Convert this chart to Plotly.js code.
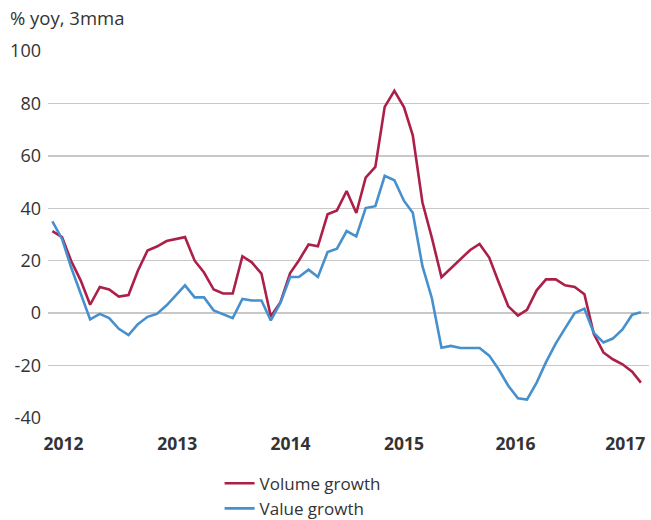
<!DOCTYPE html>
<html>
<head>
<meta charset="utf-8">
<script src="https://cdn.plot.ly/plotly-3.0.1.min.js"></script>
<style>html,body{margin:0;padding:0;background:#fff;}#chart{width:651px;height:520px;}</style>
</head>
<body>
<div id="chart"></div>
<script>
var months = [
 '2012-01-01','2012-02-01','2012-03-01','2012-04-01','2012-05-01','2012-06-01','2012-07-01','2012-08-01','2012-09-01','2012-10-01','2012-11-01','2012-12-01',
 '2013-01-01','2013-02-01','2013-03-01','2013-04-01','2013-05-01','2013-06-01','2013-07-01','2013-08-01','2013-09-01','2013-10-01','2013-11-01','2013-12-01',
 '2014-01-01','2014-02-01','2014-03-01','2014-04-01','2014-05-01','2014-06-01','2014-07-01','2014-08-01','2014-09-01','2014-10-01','2014-11-01','2014-12-01',
 '2015-01-01','2015-02-01','2015-03-01','2015-04-01','2015-05-01','2015-06-01','2015-07-01','2015-08-01','2015-09-01','2015-10-01','2015-11-01','2015-12-01',
 '2016-01-01','2016-02-01','2016-03-01','2016-04-01','2016-05-01','2016-06-01','2016-07-01','2016-08-01','2016-09-01','2016-10-01','2016-11-01','2016-12-01',
 '2017-01-01','2017-02-01','2017-03-01'
];
var volumeGrowth = [
 31.3, 29.0, 20.0, 12.4, 3.2, 10.0, 9.0, 6.3, 6.9, 16.2, 23.9, 25.4,
 27.5, 28.3, 29.0, 20.0, 15.5, 9.0, 7.5, 7.5, 21.7, 19.4, 15.1, -1.3,
 4.2, 15.3, 20.1, 26.2, 25.5, 37.7, 39.2, 46.6, 38.2, 51.7, 55.8, 78.7,
 84.8, 78.5, 67.8, 42.2, 28.8, 13.7, 17.1, 20.3, 24.1, 26.4, 21.2, 11.9,
 2.6, -0.9, 1.3, 8.7, 12.9, 12.9, 10.6, 10.0, 7.2, -7.9, -15.0, -17.6,
 -19.5, -22.3, -26.5
];
var valueGrowth = [
 35.0, 28.3, 17.5, 7.3, -2.4, -0.3, -1.9, -6.0, -8.4, -4.2, -1.4, -0.3,
 3.0, 7.0, 10.6, 6.0, 6.0, 1.0, -0.4, -1.9, 5.4, 4.8, 4.8, -2.8,
 4.0, 13.8, 13.8, 16.6, 13.8, 23.3, 24.6, 31.3, 29.3, 40.1, 40.8, 52.4,
 50.7, 42.8, 38.3, 17.9, 5.8, -13.2, -12.5, -13.3, -13.3, -13.3, -16.2, -21.4,
 -27.7, -32.5, -33.0, -26.5, -18.7, -11.6, -5.8, 0.0, 1.7, -7.5, -11.2, -9.7,
 -6.2, -0.6, 0.3
];
var yearTickPositions = ['2012-02-06','2013-02-04','2014-02-02','2015-02-01','2016-01-24','2017-01-10'];
var yearTickLabels = ['2012','2013','2014','2015','2016','2017'];
var yTickValues = [-40, -20, 0, 20, 40, 60, 80, 100];
var yTickLabels = ['-40', '-20', '0', '20', '40', '60', '80', '100'];
var seriesNames = ['Volume growth', 'Value growth'];

var FONT = '"Open Sans", "Noto Sans", sans-serif';
var traces = [
  {x: months, y: volumeGrowth, name: seriesNames[0], type: 'scatter', mode: 'lines',
   line: {color: '#AC1F48', width: 2.6}},
  {x: months, y: valueGrowth, name: seriesNames[1], type: 'scatter', mode: 'lines',
   line: {color: '#4690CD', width: 2.6}}
];
var layout = {
  width: 651, height: 520,
  margin: {l: 48, r: 2, t: 51, b: 102, autoexpand: false},
  paper_bgcolor: '#fff', plot_bgcolor: '#fff',
  font: {family: FONT, size: 17, color: '#333'},
  showlegend: true,
  legend: {orientation: 'v', x: 0.2855, xanchor: 'left', y: -0.13, yanchor: 'top',
           bgcolor: 'rgba(0,0,0,0)', borderwidth: 0,
           font: {family: FONT, size: 17, color: '#333'}, tracegroupgap: 0, itemwidth: 30},
  xaxis: {type: 'date', range: ['2011-12-18', '2017-03-27'], showgrid: false, zeroline: false,
          showline: false, ticks: '', tickvals: yearTickPositions, ticktext: yearTickLabels,
          ticklabeloverflow: 'allow',
          tickfont: {family: FONT, size: 17.5, color: '#333', weight: 'bold'}, ticklabelstandoff: 13},
  yaxis: {range: [-40, 100], tickvals: yTickValues, ticktext: yTickLabels, showgrid: true,
          gridcolor: '#c8c8c8', gridwidth: 1.5,
          zeroline: false, showline: false, ticks: '', ticklabelstandoff: 6,
          tickfont: {family: FONT, size: 18, color: '#333'}},
  annotations: [{text: '% yoy, 3mma', xref: 'paper', yref: 'paper', x: -0.066, y: 1.131,
                 xanchor: 'left', yanchor: 'top', showarrow: false,
                 font: {family: FONT, size: 18.5, color: '#333'}}]
};
Plotly.newPlot('chart', traces, layout, {displayModeBar: false, staticPlot: true});
</script>
</body>
</html>
